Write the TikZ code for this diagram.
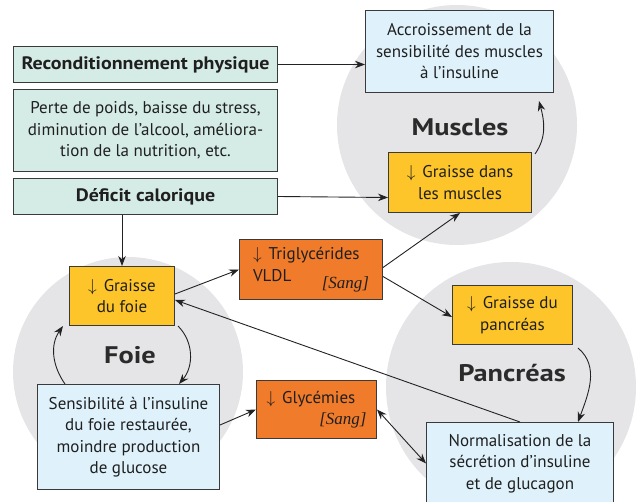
\documentclass[tikz,border=0pt]{standalone}
\usepackage{fontspec}
\setmainfont{PT Sans}
\newfontfamily\sangfont{Liberation Serif}
\usetikzlibrary{arrows.meta,calc}
\definecolor{mint}{HTML}{D5ECE6}
\definecolor{lblue}{HTML}{DFF2FC}
\definecolor{yel}{HTML}{FDC52A}
\definecolor{ora}{HTML}{F07B2B}
\definecolor{circgray}{HTML}{E5E5E7}
\definecolor{edgegray}{HTML}{3A3A3A}
\definecolor{arrgray}{HTML}{222222}
\definecolor{labelgray}{HTML}{2B2B2B}
\newcommand{\dn}{$\big\downarrow$\hspace{7pt}}
\begin{document}
\begin{tikzpicture}[x=1pt,y=1pt,
 bx/.style={draw=edgegray, line width=1pt, inner sep=0pt, align=center,
   font=\fontsize{17}{21.5}\selectfont, text=black!88, anchor=north west},
 bbx/.style={bx, font=\bfseries\addfontfeatures{FakeStretch=1.11}\fontsize{18}{21.5}\selectfont},
 arr/.style={line width=0.9pt, draw=arrgray, -{Stealth[length=10pt,width=7.5pt]}},
 darr/.style={line width=0.9pt, draw=arrgray, {Stealth[length=10pt,width=7.5pt]}-{Stealth[length=10pt,width=7.5pt]}},
 lbl/.style={font=\bfseries\addfontfeatures{FakeStretch=1.18}\fontsize{24}{28}\selectfont, text=labelgray}]
\useasboundingbox (0,0) rectangle (644,-502);
% organ circles
\fill[circgray] (457,-125) circle (120);
\fill[circgray] (128,-372) circle (115);
\fill[circgray] (511,-387) circle (125);
% labels
\node[lbl] (lm) at (460,-127) {Muscles};
\node[lbl] (lf) at (130,-355) {Foie};
\node[lbl] (lp) at (512,-373) {Pancréas};
% boxes
\node[bbx, fill=mint, minimum width=264, minimum height=36] (rec) at (13,-46) {Reconditionnement physique};
\node[bx, fill=mint, minimum width=264, minimum height=82] (perte) at (13,-89) {Perte de poids, baisse du stress,\\diminution de l’alcool, améliora-\\tion de la nutrition, etc.};
\node[bbx, fill=mint, minimum width=264, minimum height=36] (def) at (13,-178) {Déficit calorique};
\node[bx, fill=lblue, minimum width=188, minimum height=82] (acc) at (365,-10) {Accroissement de la\\sensibilité des muscles\\à l’insuline};
\node[bx, fill=yel, minimum width=143, minimum height=60] (gm) at (388,-152) {\dn Graisse dans\\les muscles};
\node[bx, fill=yel, minimum width=105, minimum height=59] (gf) at (69,-266) {\dn Graisse\\du foie};
\node[bx, fill=lblue, minimum width=182, minimum height=105] (sens) at (37,-384) {Sensibilité à l’insuline\\du foie restaurée,\\moindre production\\de glucose};
\node[bx, fill=ora, minimum width=143, minimum height=60, align=left, text width=116] (tri) at (239,-239) {\dn Triglycérides\\VLDL\hskip 0pt plus 1filll\raisebox{-7pt}{\sangfont\itshape [Sang]}};
\node[bx, fill=ora, minimum width=120, minimum height=58, align=left, text width=100] (gly) at (256,-380) {\dn Glycémies\\\hskip 0pt plus 1filll{\sangfont\itshape [Sang]}};
\node[bx, fill=yel, minimum width=120, minimum height=59] (gp) at (452,-285) {\dn Graisse du\\pancréas};
\node[bx, fill=lblue, minimum width=187, minimum height=82] (norm) at (426,-422) {Normalisation de la\\sécrétion d’insuline\\et de glucagon};
% connectors
\draw[arr] (rec.east) -- (rec.east -| acc.west);
\draw[arr] (def.east) -- ([yshift=-15pt]gm.west);
\draw[arr] (gf.north |- def.south) -- (gf.north);
\draw[arr] ([yshift=2pt]gf.east) -- (tri.west);
\draw[arr] ([yshift=2pt]tri.east) -- (gm.south);
\draw[arr] ([yshift=-7pt]tri.east) -- ([yshift=-2pt]gp.west);
\draw[arr] (norm.north) -- ([yshift=-4pt]gf.east);
\draw[arr] ([yshift=12pt]sens.east) -- (gly.west);
\draw[darr] (gly.east) -- (norm.west);
\draw[arr] ([xshift=3pt]gf.south east) to[out=-45,in=50] ([xshift=4pt]gf.south east |- sens.north);
\draw[arr] ([xshift=28pt]sens.north west) to[out=125,in=-125] ([xshift=-6pt]gf.south west);
\draw[arr] ([shift={(5pt,-3pt)}]gp.south east) to[out=-40,in=70] ([xshift=-36pt]norm.north east);
\draw[arr] ([shift={(3pt,-2pt)}]gm.north east) to[out=55,in=-75] ([shift={(-15pt,-8pt)}]acc.south east);
\end{tikzpicture}
\end{document}
